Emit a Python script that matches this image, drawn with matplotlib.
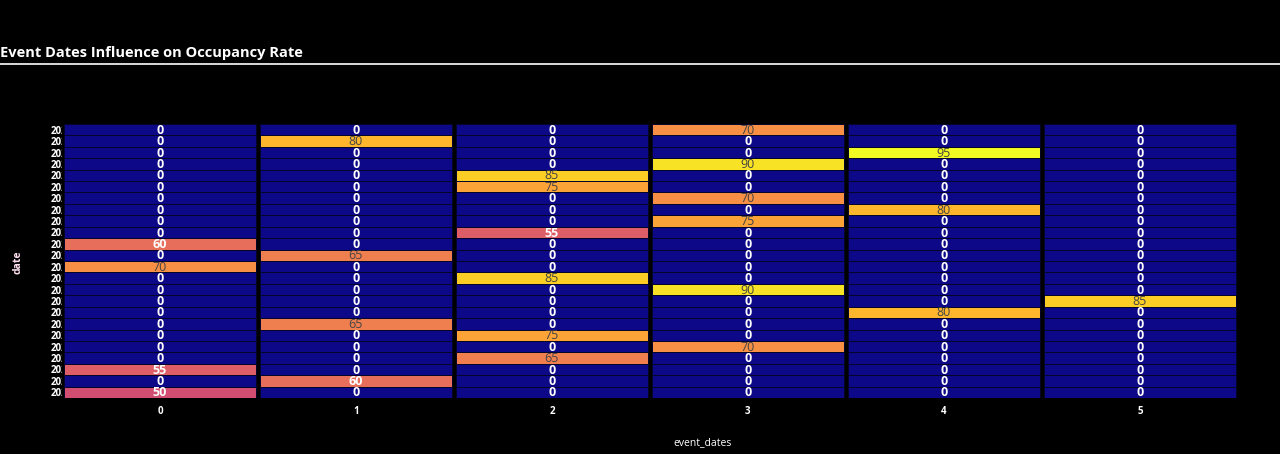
import matplotlib
matplotlib.use("Agg")
import matplotlib.pyplot as plt
import numpy as np
from matplotlib.transforms import Bbox

plt.rcParams['font.family'] = ['Open Sans', 'DejaVu Sans']

# event_dates columns and date rows (top to bottom)
event_dates = [0, 1, 2, 3, 4, 5]
dates = ["2023-01-08", "2023-01-15", "2023-01-22", "2023-02-05", "2023-02-12",
         "2023-02-19", "2023-03-05", "2023-03-12", "2023-03-19", "2023-04-02",
         "2023-04-09", "2023-04-16", "2023-04-30", "2023-05-07", "2023-05-21",
         "2023-05-28", "2023-06-04", "2023-06-18", "2023-06-25", "2023-07-09",
         "2023-07-16", "2023-07-23", "2023-08-06", "2023-08-13"]

col0 = [0, 0, 0, 0, 0, 0, 0, 0, 0, 0, 60, 0, 70, 0, 0, 0, 0, 0, 0, 0, 0, 55, 0, 50]
col1 = [0, 80, 0, 0, 0, 0, 0, 0, 0, 0, 0, 65, 0, 0, 0, 0, 0, 65, 0, 0, 0, 0, 60, 0]
col2 = [0, 0, 0, 0, 85, 75, 0, 0, 0, 55, 0, 0, 0, 85, 0, 0, 0, 0, 75, 0, 65, 0, 0, 0]
col3 = [70, 0, 0, 90, 0, 0, 70, 0, 75, 0, 0, 0, 0, 0, 90, 0, 0, 0, 0, 70, 0, 0, 0, 0]
col4 = [0, 0, 95, 0, 0, 0, 0, 80, 0, 0, 0, 0, 0, 0, 0, 0, 80, 0, 0, 0, 0, 0, 0, 0]
col5 = [0, 0, 0, 0, 0, 0, 0, 0, 0, 0, 0, 0, 0, 0, 0, 85, 0, 0, 0, 0, 0, 0, 0, 0]

z = np.array([col0, col1, col2, col3, col4, col5]).T
n_rows, n_cols = z.shape
vmax = z.max()
cmap = plt.get_cmap("plasma")

fig = plt.figure(figsize=(12.8, 4.54), dpi=100, facecolor="black")
ax = fig.add_axes([0.0484, 0.1233, 0.9187, 0.6036], facecolor="black")

gx = 0.0105
ygrid = np.arange(n_rows + 1) - 0.5
for c in range(n_cols):
    xe = [c - 0.5 + gx, c + 0.5 - gx]
    ax.pcolormesh(xe, ygrid, z[:, [c]], cmap=cmap, vmin=0, vmax=vmax,
                  edgecolors="#05052a", linewidth=0.7)
    for r in range(n_rows):
        v = z[r, c]
        rgb = cmap(v / vmax)[:3]
        lum = 0.2126 * rgb[0] + 0.7152 * rgb[1] + 0.0722 * rgb[2]
        tc = "white" if lum < 0.55 else "#444444"
        ax.text(c, r + 0.05, str(v), ha="center", va="center", color=tc,
                fontsize=9, fontweight="bold" if tc == "white" else "normal")

ax.set_xlim(-0.5, n_cols - 0.5)
ax.set_ylim(n_rows - 0.5, -0.5)
for s in ax.spines.values():
    s.set_visible(False)

ax.set_xticks(event_dates)
ax.set_xticklabels([str(e) for e in event_dates], color="white",
                   fontsize=7, fontweight="bold")
ax.set_yticks(range(n_rows))
ax.set_yticklabels(dates, color="white", fontsize=7, fontweight="bold")
ax.tick_params(length=0, pad=6)
ax.tick_params(axis="y", pad=8)

# y labels are cut off by the plot area
clip = Bbox.from_extents(0, 0, 62, 454)
for lab in ax.get_yticklabels():
    lab.set_ha("left")
    lab.set_clip_box(clip)
    lab.set_clip_on(True)

fig.text(703 / 1280, 1 - 443 / 454, "event_dates", color="white", fontsize=7.5,
         ha="center", va="center")
fig.text(18 / 1280, 1 - 262 / 454, "date", color="#ffe0f0", fontsize=7.5,
         ha="center", va="center", rotation=90, fontweight="bold")

fig.text(0.0, 1 - 53 / 454, "Event Dates Influence on Occupancy Rate", color="white",
         fontsize=10.5, fontweight="bold", ha="left", va="center")
fig.add_artist(plt.Line2D([0, 1], [1 - 63.5 / 454] * 2, color="white",
                          linewidth=1.2, transform=fig.transFigure))

fig.savefig("out.png", dpi=100, facecolor="black")
